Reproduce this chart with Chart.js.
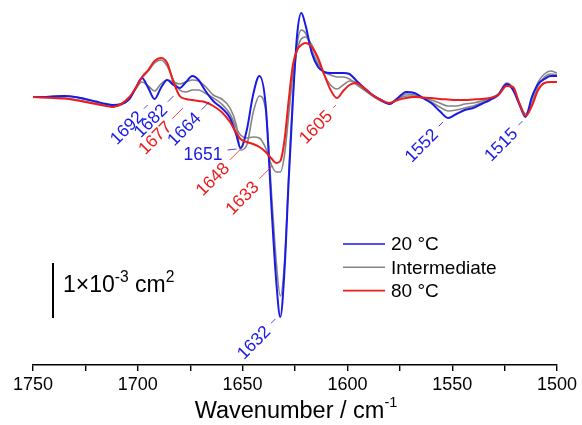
<!DOCTYPE html>
<html>
<head>
<meta charset="utf-8">
<script src="https://cdn.jsdelivr.net/npm/chart.js@4.4.1/dist/chart.umd.min.js"></script>
<style>
  html, body { margin: 0; padding: 0; background: #fff; }
</style>
</head>
<body>
<canvas id="myChart" width="582" height="425"></canvas>
<script>
// wavenumber grid (cm-1)
const wavenumbers = [1750, 1745, 1740, 1735, 1730, 1725, 1720, 1715, 1712, 1708, 1704, 1701,
  1698, 1695, 1692, 1689, 1686, 1683, 1680, 1677, 1674, 1671, 1668,
  1664, 1660, 1656, 1653, 1651, 1648, 1645, 1642, 1639, 1636, 1634, 1632, 1630, 1628, 1626, 1624, 1622, 1620,
  1617, 1614, 1611, 1608, 1605, 1602, 1599, 1596,
  1592, 1588, 1584, 1580, 1576, 1572, 1568, 1564, 1560, 1556, 1552, 1548, 1544, 1540, 1536, 1532, 1528, 1524,
  1521, 1518, 1515, 1512, 1509, 1506, 1503, 1500];

// difference spectra (arbitrary units)
const blue20 = [0, 0, 0.1, 0.2, 0, -0.4, -0.9, -1.4, -1.6, -1.4, -0.4, 1.8,
  3.8, 1.8, -0.4, 1.8, 3.4, 2.4, 1.8, 3.0, 4.2, 3.4, 1.4,
  -0.8, -2.2, -4.2, -7.6, -10.2, -6.6, 0.4, 4.2, -1.6, -23.6, -36.6, -44, -34.6, -16.6, -0.6, 12.4, 16.8, 14.4,
  8.8, 6, 5, 4.8, 4.8, 4.8, 4.6, 3.4,
  1.8, 0.4, -0.6, -1.4, -0.2, 1.0, 0.8, -0.2, -1.2, -2.8, -4.2, -3.4, -2.6, -2.2, -1.4, -0.6, 0.4, 2.6,
  1.4, -1.4, -4.0, 0, 2.6, 3.6, 4.2, 4.2];

const grayA = [0, 0, 0.2, 0.2, 0, -0.5, -1.0, -1.6, -1.8, -1.5, -0.4, 1.6,
  3.0, 2.2, 1.2, 2.6, 3.4, 3.0, 2.6, 3.0, 3.4, 3.2, 2.2,
  0.4, -0.4, -2.2, -5.6, -10.6, -9.6, -3.2, 0.2, -2.6, -20.6, -32.6, -39.8, -33, -15.6, 0.4, 10.4, 13.4, 12.8,
  9.4, 6.6, 5.0, 4.4, 4.0, 4.0, 3.6, 2.6,
  1.4, 0.2, -0.8, -1.4, -0.4, 0.6, 0.4, -0.2, -1.0, -2.0, -2.8, -2.6, -2.2, -1.8, -1.2, -0.4, 0.6, 2.8,
  1.8, -1.2, -3.4, -0.6, 3.0, 4.6, 5.2, 4.8];

const grayB = [0, -0.1, -0.1, -0.2, -0.5, -0.9, -1.3, -1.7, -1.9, -1.6, -0.3, 1.8,
  3.8, 5.2, 6.8, 7.4, 6.2, 3.4, 1.4, 1.0, 1.4, 1.4, 0.8,
  -0.2, -1.4, -3.4, -6.2, -7.6, -8.2, -8.0, -8.2, -10.2, -13.8, -15.0, -15.0, -11.6, -3.6, 4.4, 9.4, 11.6, 12,
  10.4, 7.4, 4.4, 2.4, 1.6, 2.4, 3.2, 3.0,
  1.8, 0.4, -0.6, -1.2, -0.4, 0.2, 0.2, -0.2, -0.6, -1.2, -1.8, -1.8, -1.4, -1.2, -0.8, -0.2, 0.6, 2.6,
  1.8, -1.4, -3.4, -1.4, 2.2, 4.0, 4.6, 4.4];

const red80 = [0, -0.1, -0.2, -0.3, -0.6, -1.0, -1.4, -1.8, -2.0, -1.4, 0, 1.8,
  4.0, 5.4, 7.2, 7.8, 6.8, 3.0, 0.2, -0.4, -0.6, -0.8, -1.0,
  -1.8, -3.0, -5.0, -7.2, -8.4, -9.0, -9.4, -10.0, -11.0, -12.4, -13.2, -12.8, -8.6, -0.6, 6.4, 9.4, 10.4, 10.8,
  10, 7.8, 4.4, 1.4, -0.2, 1.2, 2.4, 2.8,
  1.8, 0.4, -0.6, -1.2, -0.6, -0.2, 0, -0.1, -0.2, -0.4, -0.5, -0.6, -0.6, -0.5, -0.4, -0.2, 0.4, 2.2,
  2.0, -1.2, -3.8, -1.8, 1.4, 2.8, 3.0, 3.0];

const xTicks = [1750, 1700, 1650, 1600, 1550, 1500];

// 1e-3 cm2 expressed in the plot's units
const scaleBarUnits = 11;

// peak labels: text, position, which curve they point at
const annoText = ['1692', '1682', '1677', '1664', '1651', '1648', '1633', '1632', '1605', '1552', '1515'];
const annoWn = [1692, 1682, 1677, 1664, 1651, 1648, 1633, 1632, 1605, 1552, 1515];
const annoCurve = [0, 0, 3, 0, 0, 3, 3, 0, 3, 0, 0];

const BLUE = '#1a1ae6', RED = '#ee1c1c', GRAY = '#858585';
const FONT = '"Liberation Sans", Arial, sans-serif';

// leader offsets from curve point (dx, dy) and leader length
const annoLayout = [
  [-7, 6, 5], [-2, 10, 8], [-3, 9, 15], [-4, 1, 11], [-4, 1, 9], [-7, 8, 14],
  [-6, 4, 18], [-5, 2, 6], [-1, 7, 4], [-5, 4, 6], [-3, 4, 6]
];

function pts(vals) {
  return wavenumbers.map((x, i) => ({ x: x, y: vals[i] }));
}

function valueAt(vals, wn) {
  for (let i = 0; i < wavenumbers.length - 1; i++) {
    const a = wavenumbers[i], b = wavenumbers[i + 1];
    if (wn <= a && wn >= b) {
      const t = (a - wn) / (a - b);
      return vals[i] + t * (vals[i + 1] - vals[i]);
    }
  }
  return 0;
}

// text with superscript parts: [[text, isSup], ...]
function richText(ctx, parts, x, y, size, align, supScale) {
  const widths = parts.map(p => {
    ctx.font = (p[1] ? size * supScale : size) + 'px ' + FONT;
    return ctx.measureText(p[0]).width;
  });
  const total = widths.reduce((s, w) => s + w, 0);
  let cx = align === 'center' ? x - total / 2 : x;
  ctx.textAlign = 'left';
  ctx.textBaseline = 'alphabetic';
  parts.forEach((p, i) => {
    ctx.font = (p[1] ? size * supScale : size) + 'px ' + FONT;
    ctx.fillText(p[0], cx, p[1] ? y - size * 0.45 : y);
    cx += widths[i];
  });
}

const extras = {
  id: 'extras',
  afterDatasetsDraw(chart) {
    const ctx = chart.ctx;
    const xs = chart.scales.x, ys = chart.scales.y;
    const series = chart.data.datasets;
    ctx.save();

    // peak labels
    const d = Math.SQRT1_2;
    annoText.forEach((txt, i) => {
      const ds = series[annoCurve[i]];
      const px = xs.getPixelForValue(annoWn[i]);
      const py = ys.getPixelForValue(valueAt(ds.values, annoWn[i]));
      const [dx, dy, len] = annoLayout[i];
      const nx = px + dx, ny = py + dy;
      const horizontal = txt === '1651';
      const fx = horizontal ? nx - len : nx - len * d;
      const fy = horizontal ? ny + 1 : ny + len * d;
      ctx.strokeStyle = ds.borderColor;
      ctx.lineWidth = 0.8;
      ctx.beginPath();
      ctx.moveTo(nx, ny);
      ctx.lineTo(fx, fy);
      ctx.stroke();
      ctx.fillStyle = ds.borderColor;
      ctx.font = '17.5px ' + FONT;
      ctx.textAlign = 'right';
      ctx.textBaseline = 'middle';
      if (horizontal) {
        ctx.fillText(txt, fx - 5, fy + 5);
      } else {
        ctx.save();
        ctx.translate(fx - 3, fy + 6);
        ctx.rotate(-Math.PI / 4);
        ctx.fillText(txt, 0, 0);
        ctx.restore();
      }
    });

    // legend
    const legendItems = series.filter(s => !s.hideInLegend);
    legendItems.forEach((s, i) => {
      const y = 244 + i * 23.3;
      ctx.strokeStyle = s.borderColor;
      ctx.lineWidth = 1.6;
      ctx.beginPath();
      ctx.moveTo(343, y);
      ctx.lineTo(385, y);
      ctx.stroke();
      ctx.fillStyle = '#000';
      ctx.font = '19px ' + FONT;
      ctx.textAlign = 'left';
      ctx.textBaseline = 'middle';
      ctx.fillText(s.label, 391, y + 1);
    });

    // scale bar
    const barLen = ys.getPixelForValue(0) - ys.getPixelForValue(scaleBarUnits);
    ctx.strokeStyle = '#000';
    ctx.lineWidth = 2;
    ctx.beginPath();
    ctx.moveTo(53, 263);
    ctx.lineTo(53, 263 + barLen);
    ctx.stroke();
    ctx.fillStyle = '#000';
    richText(ctx, [['1×10', 0], ['-3', 1], [' cm', 0], ['2', 1]], 63, 292, 23, 'left', 0.68);

    // axis title
    richText(ctx, [['Wavenumber / cm', 0], ['-1', 1]], 296, 418, 23.5, 'center', 0.62);

    ctx.restore();
  }
};

const data = {
  datasets: [
    { label: '20 °C', values: blue20, data: pts(blue20), borderColor: BLUE, borderWidth: 2, order: 1 },
    { label: 'Intermediate', values: grayA, data: pts(grayA), borderColor: GRAY, borderWidth: 1.6, order: 2 },
    { label: 'Intermediate', values: grayB, data: pts(grayB), borderColor: GRAY, borderWidth: 1.6, order: 3, hideInLegend: true },
    { label: '80 °C', values: red80, data: pts(red80), borderColor: RED, borderWidth: 2, order: 0 }
  ]
};

const config = {
  type: 'line',
  data: data,
  options: {
    responsive: false,
    animation: false,
    devicePixelRatio: 1,
    layout: { padding: { left: 33, right: 25, top: 5, bottom: 0 } },
    elements: {
      point: { radius: 0 },
      line: { cubicInterpolationMode: 'monotone', fill: false }
    },
    plugins: {
      legend: { display: false },
      tooltip: { enabled: false }
    },
    scales: {
      x: {
        type: 'linear',
        reverse: true,
        min: 1500,
        max: 1750,
        afterFit(scale) { scale.height = 60; },
        border: { display: true, color: '#000', width: 1.6 },
        grid: { display: true, drawOnChartArea: false, drawTicks: true, tickLength: 6, color: '#000', lineWidth: 1.4 },
        ticks: {
          stepSize: 25,
          autoSkip: false,
          maxRotation: 0,
          padding: 3,
          color: '#000',
          font: { family: FONT, size: 18 },
          callback: v => xTicks.includes(v) ? String(v) : ''
        }
      },
      y: {
        display: false,
        min: -53.6,
        max: 18.4
      }
    }
  },
  plugins: [extras]
};

const myChart = new Chart(document.getElementById('myChart'), config);
</script>
</body>
</html>
